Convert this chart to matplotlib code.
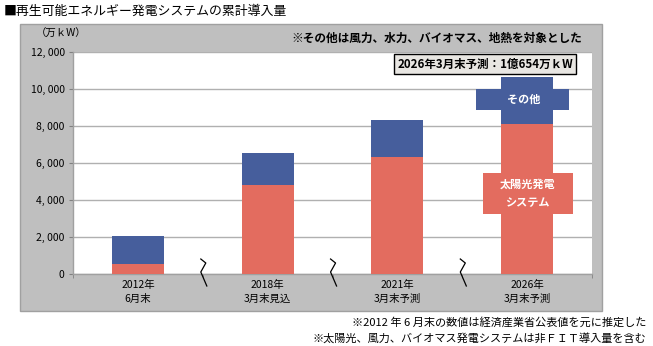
import matplotlib
matplotlib.use("Agg")
import matplotlib.pyplot as plt
from matplotlib.patches import Rectangle
import numpy as np

plt.rcParams['font.family'] = ['Noto Sans CJK JP', 'DejaVu Sans']

categories = ["2012年\n6月末", "2018年\n3月末見込", "2021年\n3月末予測", "2026年\n3月末予測"]
solar = [560, 4810, 6320, 8100]
other = [1500, 1710, 2030, 2554]
yticks = [0, 2000, 4000, 6000, 8000, 10000, 12000]
ytick_labels = ["0", "2, 000", "4, 000", "6, 000", "8, 000", "10, 000", "12, 000"]

RED = "#E36C5F"
BLUE = "#465E9C"
GRAY = "#BFBFBF"

W, H = 653, 346
fig = plt.figure(figsize=(W / 100, H / 100), dpi=100)

def fx(px):
    return px / W

def fy(py):
    return 1 - py / H

# gray panel
fig.patches.append(Rectangle((fx(20), fy(311)), fx(602) - fx(20), fy(24) - fy(311),
                             transform=fig.transFigure, facecolor=GRAY,
                             edgecolor="#A0A0A0", linewidth=1.0, zorder=-5))

ax = fig.add_axes([fx(73), fy(274), fx(592) - fx(73), fy(52) - fy(274)])
ax.set_zorder(1)
ax.set_facecolor("white")
x = np.arange(len(categories))
ax.bar(x, solar, width=0.4, color=RED, zorder=3)
ax.bar(x, other, width=0.4, bottom=solar, color=BLUE, zorder=3)

ax.set_xlim(-0.5, len(categories) - 0.5)
ax.set_ylim(0, 12000)
ax.set_yticks(yticks)
ax.set_yticklabels(ytick_labels, fontsize=7.5)
ax.set_xticks(x)
ax.set_xticklabels(categories, fontsize=7.5, linespacing=1.5)
ax.tick_params(axis='x', length=0, pad=4)
ax.tick_params(axis='y', length=3, color="#808080", pad=3)
ax.set_xticks(np.arange(len(categories) + 1) - 0.5, minor=True)
ax.tick_params(axis='x', which='minor', length=3, color="#808080")
ax.grid(axis='y', color="#B0B0B0", linewidth=1.0, zorder=1)
for s in ['top', 'right']:
    ax.spines[s].set_visible(False)
for s in ['left', 'bottom']:
    ax.spines[s].set_color("#A0A0A0")
    ax.spines[s].set_linewidth(1.0)

# break marks
ppx = 129.75  # px per category
ppy = 222 / 12000
rel = [(0, -15), (5, -11), (0, -2), (6, 12)]
for b in [0.5, 1.5, 2.5]:
    xs = [b - 0.015 + dx / ppx for dx, dy in rel]
    ys = [-dy / ppy for dx, dy in rel]
    ax.plot(xs, ys, color="black", linewidth=0.9, clip_on=False, zorder=5)

# label boxes on last bar
i = 3
ax.add_patch(Rectangle((i - 0.397, 8860), 0.717, 1140, facecolor=BLUE, edgecolor='none', zorder=4))
ax.text(i - 0.03, 9430, "その他", color="white", fontsize=8, fontweight='bold',
        ha='center', va='center', zorder=6)
ax.add_patch(Rectangle((i - 0.343, 3243), 0.693, 2217, facecolor=RED, edgecolor='none', zorder=4))
ax.text(i, 4350, "太陽光発電\nシステム", color="white", fontsize=8, fontweight='bold',
        ha='center', va='center', linespacing=1.5, zorder=6)

# texts
fig.text(fx(4), fy(11), "■再生可能エネルギー発電システムの累計導入量", fontsize=9.3,
         ha='left', va='center')
fig.text(fx(36), fy(34), "（万ｋW）", fontsize=7.5, ha='left', va='center')
fig.text(fx(582), fy(38), "※その他は風力、水力、バイオマス、地熱を対象とした", fontsize=8.4,
         fontweight='bold', ha='right', va='center', zorder=10)
fig.text(fx(485), fy(64), "2026年3月末予測：1億654万ｋW", fontsize=8.3, fontweight='bold',
         ha='center', va='center', zorder=10,
         bbox=dict(boxstyle='square,pad=0.3', facecolor="#E8E6E2", edgecolor='black', linewidth=1.0))
fig.text(fx(646), fy(322), "※2012 年 6 月末の数値は経済産業省公表値を元に推定した", fontsize=8,
         ha='right', va='center')
fig.text(fx(646), fy(338), "※太陽光、風力、バイオマス発電システムは非ＦＩＴ導入量を含む", fontsize=8,
         ha='right', va='center')

fig.savefig("out.png", dpi=100)
